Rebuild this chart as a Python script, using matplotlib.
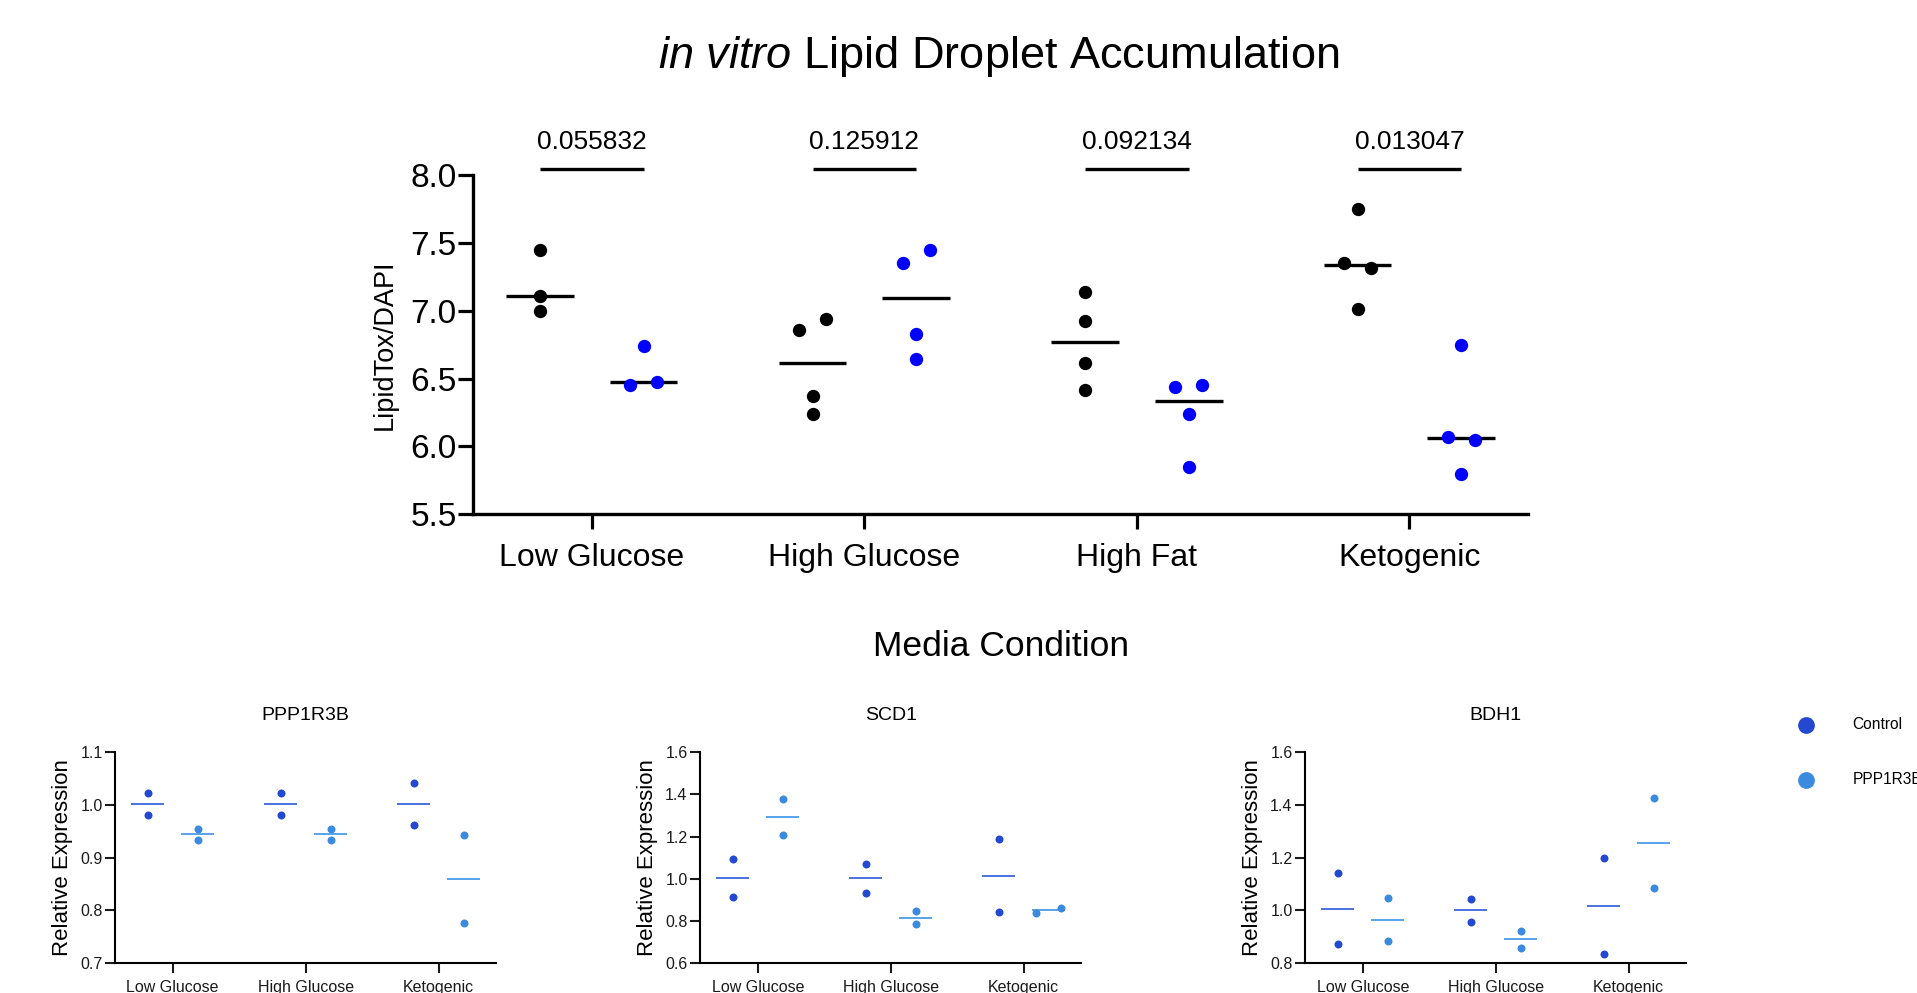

# lipid droplet accumulation + qPCR panels
import numpy as np
import matplotlib.pyplot as plt

plt.rcParams['font.family'] = ['Liberation Sans', 'DejaVu Sans']
plt.rcParams['mathtext.fontset'] = 'custom'
plt.rcParams['mathtext.rm'] = 'Liberation Sans'
plt.rcParams['mathtext.it'] = 'Liberation Sans:italic'

# top panel data
categories_top = ['Low Glucose', 'High Glucose', 'High Fat', 'Ketogenic']
top_control = [[7.447, 7.111, 6.998],
               [6.858, 6.937, 6.371, 6.239],
               [7.135, 6.927, 6.612, 6.416],
               [7.749, 7.354, 7.317, 7.013]]
top_treated = [[6.742, 6.455, 6.477],
               [7.354, 7.445, 6.826, 6.642],
               [6.435, 6.452, 6.236, 5.851],
               [6.745, 6.067, 6.050, 5.799]]
p_values = ['0.055832', '0.125912', '0.092134', '0.013047']
top_yticks = [5.5, 6.0, 6.5, 7.0, 7.5, 8.0]

# bottom panels data
genes = ['PPP1R3B', 'SCD1', 'BDH1']
categories_bottom = ['Low Glucose', 'High Glucose', 'Ketogenic']
ppp1r3b_control = [[1.023, 0.980], [1.023, 0.980], [1.041, 0.962]]
ppp1r3b_treated = [[0.955, 0.934], [0.955, 0.934], [0.943, 0.777]]
scd1_control = [[1.093, 0.916], [1.071, 0.935], [1.186, 0.844]]
scd1_treated = [[1.378, 1.208], [0.847, 0.786], [0.839, 0.861]]
bdh1_control = [[1.141, 0.874], [1.044, 0.956], [1.198, 0.836]]
bdh1_treated = [[1.047, 0.884], [0.923, 0.858], [1.427, 1.086]]
gene_yticks = [[0.7, 0.8, 0.9, 1.0, 1.1],
               [0.6, 0.8, 1.0, 1.2, 1.4, 1.6],
               [0.8, 1.0, 1.2, 1.4, 1.6]]
legend_labels = ['Control', 'PPP1R3B']

ctrl_dot = '#2349d0'
trt_dot = '#3a8ae0'
ctrl_line = '#3a66dc'
trt_line = '#4a9ce8'


def spread_offsets(ax, vals, diam_px, sep_px):
    # points closer than one dot get pushed apart sideways (prism style)
    vals = np.asarray(vals, dtype=float)
    ys = ax.transData.transform(np.column_stack([np.zeros(len(vals)), vals]))[:, 1]
    xl = ax.get_xlim()
    px_per_x = ax.bbox.width / (xl[1] - xl[0])
    clusters = []
    for i, y in enumerate(ys):
        for c in clusters:
            if any(abs(y - ys[j]) < diam_px for j in c):
                c.append(i)
                break
        else:
            clusters.append([i])
    off = np.zeros(len(vals))
    for c in clusters:
        n = len(c)
        for k, j in enumerate(c):
            off[j] = (k - (n - 1) / 2.0) * sep_px / px_per_x
    return off


fig = plt.figure(figsize=(19.17, 9.93), dpi=100)

# ---------------- top panel
ax = fig.add_axes([0.2469, 0.4821, 0.5502, 0.3417])
ax.set_xlim(-0.435, 3.435)
ax.set_ylim(5.5, 8.0)
for s in ['top', 'right']:
    ax.spines[s].set_visible(False)
for s in ['left', 'bottom']:
    ax.spines[s].set_linewidth(2.4)
ax.set_xticks(range(len(categories_top)))
ax.set_xticklabels(categories_top)
ax.set_yticks(top_yticks)
ax.set_yticklabels(['%.1f' % t for t in top_yticks])
ax.tick_params(axis='both', length=11, width=2.3, direction='out')
ax.tick_params(axis='y', labelsize=24, pad=1)
ax.tick_params(axis='x', labelsize=23, pad=10)
ax.set_ylabel('LipidTox/DAPI', fontsize=19.5, labelpad=9)
ax.set_xlabel('Media Condition', fontsize=25.5, labelpad=41)

gap = 0.19
for i in range(len(categories_top)):
    for vals, sign, col in [(top_control[i], -1, 'black'), (top_treated[i], 1, 'blue')]:
        xc = i + sign * gap
        xs = xc + spread_offsets(ax, vals, 14, 26.7)
        ax.hlines(np.median(vals), xc - 0.124, xc + 0.124, color='black', lw=2.4, zorder=2)
        ax.scatter(xs, vals, s=92, color=col, linewidths=0, zorder=3, clip_on=False)
    ax.plot([i - gap, i + gap], [8.042, 8.042], color='black', lw=2.4,
            solid_capstyle='butt', clip_on=False)
    ax.text(i, 8.24, p_values[i], ha='center', va='center', fontsize=19)

fig.text(0.5211, 0.9436, r'$\mathit{in\ vitro}$ Lipid Droplet Accumulation',
         ha='center', va='center', fontsize=32.5)

# ---------------- bottom panels
gene_control = [ppp1r3b_control, scd1_control, bdh1_control]
gene_treated = [ppp1r3b_treated, scd1_treated, bdh1_treated]
lefts = [0.0600, 0.3652, 0.6808]
handles = []
for g in range(len(genes)):
    bx = fig.add_axes([lefts[g], 0.0299, 0.1988, 0.2128])
    bx.set_xlim(-0.434, 2.433)
    yt = gene_yticks[g]
    bx.set_ylim(yt[0], yt[-1])
    for s in ['top', 'right']:
        bx.spines[s].set_visible(False)
    for s in ['left', 'bottom']:
        bx.spines[s].set_linewidth(1.5)
    bx.set_xticks(range(len(categories_bottom)))
    bx.set_xticklabels(categories_bottom)
    bx.set_yticks(yt)
    bx.set_yticklabels(['%.1f' % t for t in yt])
    bx.tick_params(axis='both', length=7, width=1.5, labelsize=11.5, colors='#1a1a1a')
    bx.tick_params(axis='y', pad=2)
    bx.tick_params(axis='x', pad=5)
    bx.set_ylabel('Relative Expression', fontsize=16, labelpad=5)
    bx.set_title(genes[g], fontsize=14, pad=23)
    for i in range(len(categories_bottom)):
        for vals, sign, dc, lc in [(gene_control[g][i], -1, ctrl_dot, ctrl_line),
                                   (gene_treated[g][i], 1, trt_dot, trt_line)]:
            xc = i + sign * 0.188
            xs = xc + spread_offsets(bx, vals, 9, 25)
            bx.hlines(np.mean(vals), xc - 0.123, xc + 0.123, color=lc, lw=1.3, zorder=2)
            sc = bx.scatter(xs, vals, s=33, color=dc, linewidths=0, zorder=3, clip_on=False)
            if g == 2 and i == 0:
                handles.append(sc)

fig.legend(handles, legend_labels, loc='upper left', bbox_to_anchor=(0.938, 0.278),
           frameon=False, fontsize=11.2, markerscale=2.1, handlelength=1.0,
           handletextpad=2.5, labelspacing=2.55, borderpad=0, borderaxespad=0)

fig.savefig('out.png', dpi=100)
